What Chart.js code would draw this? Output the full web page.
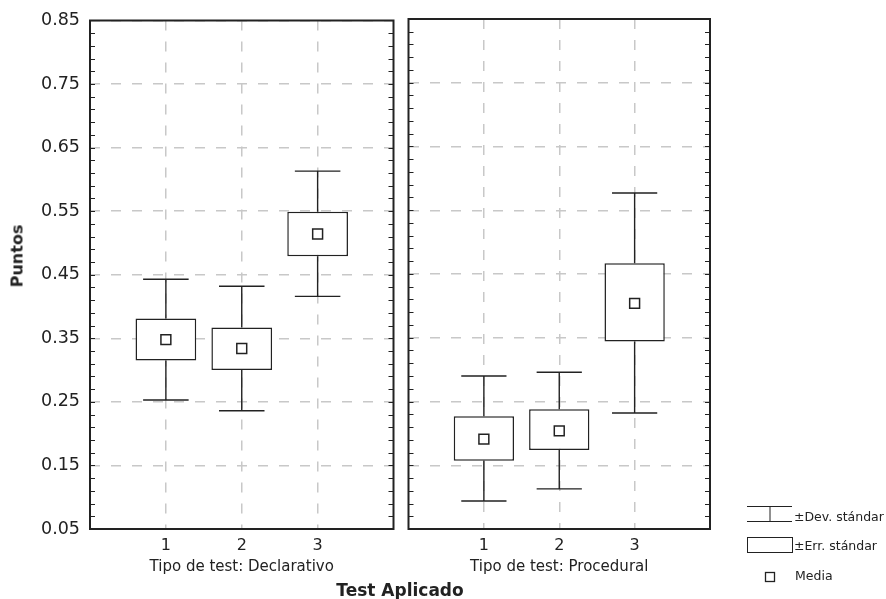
<!DOCTYPE html>
<html>
<head>
<meta charset="utf-8">
<script src="https://cdn.jsdelivr.net/npm/chart.js@4.4.0/dist/chart.umd.min.js"></script>
<style>
  body { margin: 0; background: #fff; }
  #wrap { position: relative; width: 886px; height: 599px; font-family: 'DejaVu Sans', sans-serif; color: #222; }
  #left { position: absolute; left: 0; top: 0; }
  #right { position: absolute; left: 400px; top: 0; }
  .axis-title { position: absolute; white-space: nowrap; font-weight: bold; transform: translate(-50%, -50%); }
  #ytitle { left: 17px; top: 256px; font-size: 16px; transform: translate(-50%, -50%) rotate(-90deg); }
  #xtitle { left: 400px; top: 590px; font-size: 17px; }
</style>
</head>
<body>
<div id="wrap">
  <canvas id="left" width="402" height="599"></canvas>
  <canvas id="right" width="486" height="599"></canvas>
  <div id="ytitle" class="axis-title">Puntos</div>
  <div id="xtitle" class="axis-title">Test Aplicado</div>
</div>
<script>
const categories = [1, 2, 3]
const yTicks = [0.05, 0.15, 0.25, 0.35, 0.45, 0.55, 0.65, 0.75, 0.85]
const panelTitles = ['Tipo de test: Declarativo', 'Tipo de test: Procedural']
const legendLabels = ['±Dev. stándar', '±Err. stándar', 'Media']

// Declarativo
const decMean = [0.348, 0.334, 0.514]
const decSeLow = [0.315, 0.300, 0.479]
const decSeHigh = [0.381, 0.367, 0.549]
const decSdLow = [0.253, 0.236, 0.416]
const decSdHigh = [0.443, 0.432, 0.613]

// Procedural
const procMean = [0.191, 0.204, 0.404]
const procSeLow = [0.157, 0.174, 0.344]
const procSeHigh = [0.227, 0.238, 0.467]
const procSdLow = [0.094, 0.113, 0.232]
const procSdHigh = [0.290, 0.296, 0.577]

const ink = '#222'
const gridGray = '#c8c8c8'
const family = "'DejaVu Sans', sans-serif"

function whiskerPoints(sdLow, seLow, seHigh, sdHigh) {
  const pts = []
  categories.forEach((c, i) => {
    pts.push({x: c - 0.3, y: sdHigh[i]}, {x: c + 0.3, y: sdHigh[i]}, {x: c, y: null})
    pts.push({x: c, y: sdHigh[i]}, {x: c, y: seHigh[i]}, {x: c, y: null})
    pts.push({x: c, y: seLow[i]}, {x: c, y: sdLow[i]}, {x: c, y: null})
    pts.push({x: c - 0.3, y: sdLow[i]}, {x: c + 0.3, y: sdLow[i]}, {x: c, y: null})
  })
  return pts
}

// frame + small inward ticks every 0.02
const panelFrame = {
  id: 'panelFrame',
  afterDatasetsDraw(chart) {
    const {ctx, chartArea: a, scales: {y}} = chart
    ctx.save()
    ctx.strokeStyle = ink
    ctx.lineWidth = 1
    for (let v = y.min; v <= y.max + 1e-9; v += 0.02) {
      const py = Math.round(y.getPixelForValue(v)) + 0.5
      ctx.beginPath()
      ctx.moveTo(a.left, py)
      ctx.lineTo(a.left + 5, py)
      ctx.moveTo(a.right - 5, py)
      ctx.lineTo(a.right, py)
      ctx.stroke()
    }
    ctx.lineWidth = 2
    ctx.strokeRect(a.left, a.top, a.right - a.left, a.bottom - a.top)
    ctx.restore()
  }
}

const sideLegend = {
  id: 'sideLegend',
  afterDraw(chart) {
    const {ctx, chartArea: a} = chart
    const x0 = a.right + 37, x1 = a.right + 82, xm = a.right + 60
    const b = a.bottom
    ctx.save()
    ctx.strokeStyle = ink
    ctx.fillStyle = ink
    ctx.lineWidth = 1
    ctx.beginPath()
    ctx.moveTo(x0, b - 22.5); ctx.lineTo(x1, b - 22.5)
    ctx.moveTo(xm, b - 22.5); ctx.lineTo(xm, b - 7.5)
    ctx.moveTo(x0, b - 7.5); ctx.lineTo(x1, b - 7.5)
    ctx.stroke()
    ctx.strokeRect(x0 + 0.5, b + 8.5, x1 - x0, 15)
    ctx.lineWidth = 1.3
    ctx.strokeRect(xm - 4.5, b + 43.5, 9, 9)
    ctx.font = '12.5px ' + family
    ctx.textBaseline = 'middle'
    ctx.fillText(legendLabels[0], x1 + 2, b - 11)
    ctx.fillText(legendLabels[1], x1 + 2, b + 18)
    ctx.fillText(legendLabels[2], x1 + 3, b + 48)
    ctx.restore()
  }
}

function panel(canvasId, title, mean, seLow, seHigh, sdLow, sdHigh, isLeft) {
  return new Chart(document.getElementById(canvasId), {
    type: 'scatter',
    data: {
      datasets: [
        {
          type: 'scatter',
          data: categories.map((c, i) => ({x: c, y: mean[i]})),
          pointStyle: 'rect',
          pointRadius: 7,
          pointBorderWidth: 1.5,
          pointBackgroundColor: '#fff',
          pointBorderColor: ink,
          order: 0
        },
        {
          type: 'bar',
          data: categories.map((c, i) => ({x: c, y: [seLow[i], seHigh[i]]})),
          backgroundColor: '#fff',
          borderColor: ink,
          borderWidth: 1.5,
          borderSkipped: false,
          barPercentage: 0.8,
          categoryPercentage: 1,
          order: 1
        },
        {
          type: 'line',
          data: whiskerPoints(sdLow, seLow, seHigh, sdHigh),
          borderColor: ink,
          borderWidth: 1.4,
          pointRadius: 0,
          spanGaps: false,
          order: 2
        }
      ]
    },
    options: {
      responsive: false,
      animation: false,
      layout: {padding: {left: isLeft ? 0 : 7, right: isLeft ? 4 : 176, top: 19, bottom: 0}},
      plugins: {legend: {display: false}, tooltip: {enabled: false}},
      scales: {
        x: {
          type: 'linear',
          min: 0,
          max: 4,
          offset: false,
          afterBuildTicks: s => { s.ticks = [0, ...categories, 4].map(v => ({value: v})) },
          afterFit: s => { s.height = 70 },
          ticks: {
            callback: v => categories.includes(v) ? String(v) : '',
            padding: 7,
            color: ink,
            autoSkip: false,
            maxRotation: 0,
            font: {family, size: 16}
          },
          grid: {
            offset: false,
            drawTicks: false,
            lineWidth: 1.5,
            color: ctx => categories.includes(ctx.tick && ctx.tick.value) ? gridGray : 'rgba(0,0,0,0)'
          },
          border: {display: false, dash: [10, 11]},
          title: {display: true, text: title, color: ink, font: {family, size: 15}, padding: {top: 0, bottom: 23}}
        },
        y: {
          min: 0.05,
          max: 0.85,
          afterBuildTicks: s => { s.ticks = yTicks.map(v => ({value: v})) },
          afterFit: s => { s.width = isLeft ? 90 : 0 },
          ticks: {
            display: isLeft,
            callback: v => v.toFixed(2),
            padding: 10,
            color: ink,
            font: {family, size: 17.5}
          },
          grid: {drawTicks: false, lineWidth: 1.5, color: gridGray},
          border: {display: false, dash: [10, 11]}
        }
      }
    },
    plugins: isLeft ? [panelFrame] : [panelFrame, sideLegend]
  })
}

const leftChart = panel('left', panelTitles[0], decMean, decSeLow, decSeHigh, decSdLow, decSdHigh, true)
const rightChart = panel('right', panelTitles[1], procMean, procSeLow, procSeHigh, procSdLow, procSdHigh, false)
</script>
</body>
</html>
